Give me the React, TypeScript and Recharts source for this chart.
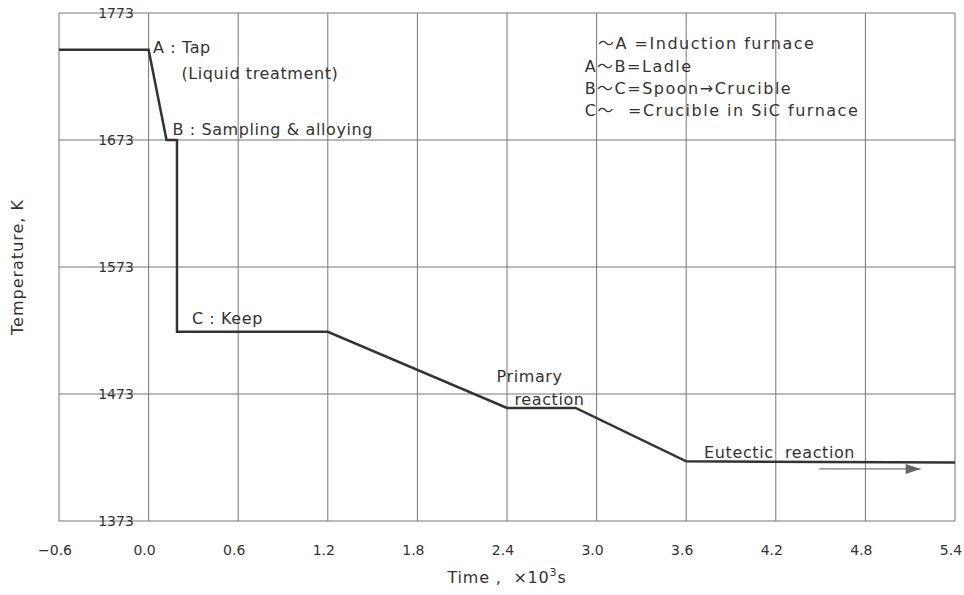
import React from 'react';
import { LineChart, Line, XAxis, YAxis, CartesianGrid, ReferenceDot } from 'recharts';

// axis ticks
const timeTicks = [-0.6, 0, 0.6, 1.2, 1.8, 2.4, 3.0, 3.6, 4.2, 4.8, 5.4];
const tempTicks = [1373, 1473, 1573, 1673, 1773];

// cooling curve, time in 10^3 s, temperature in K
const pathTime = [-0.6, 0.0, 0.12, 0.19, 0.19, 1.2, 2.4, 2.86, 3.6, 5.4];
const pathTemp = [1744, 1744, 1673, 1673, 1522, 1522, 1462, 1462, 1420, 1419];

// arrow under "Eutectic reaction"
const arrowTime = [4.49, 5.17];
const arrowTemp = [1414, 1414];

// text notes in data space
const noteTime = [0.03, 0.22, 0.16, 0.29, 2.33, 2.45, 3.72];
const noteTemp = [1746, 1726, 1682, 1533, 1487, 1469, 1427];
const noteText = [
  'A : Tap',
  '(Liquid treatment)',
  'B : Sampling & alloying',
  'C : Keep',
  'Primary',
  'reaction',
  'Eutectic  reaction',
];

// stage key in the upper right
const keyTime = [3.01, 2.92, 2.92, 2.92];
const keyTemp = [1749, 1731, 1714, 1697];
const keyText = [
  '～A =Induction furnace',
  'A～B=Ladle',
  'B～C=Spoon→Crucible',
  'C～  =Crucible in SiC furnace',
];

const W = 964;
const H = 595;
const margin = { top: 13, right: 9, bottom: 14, left: 59 };
const xAxisHeight = 60;
const plotTop = margin.top;
const plotBottom = H - margin.bottom - xAxisHeight;
const plotLeft = margin.left;
const plotRight = W - margin.right;

const FONT = "'DejaVu Sans', 'Noto Sans CJK JP', sans-serif";
const INK = '#333';
const GRID = '#777';

const curve = pathTime.map((t, i) => ({ t, temp: pathTemp[i] }));
const arrow = arrowTime.map((t, i) => ({ t, arrow: arrowTemp[i] }));
const notes = noteTime.map((t, i) => ({ t, temp: noteTemp[i], text: noteText[i] }));
const keys = keyTime.map((t, i) => ({ t, temp: keyTemp[i], text: keyText[i] }));

const fmtTime = (v: number) => v.toFixed(1).replace('-', '−');

const YTick = (props: any) => {
  const { y, payload } = props;
  return (
    <text x={plotLeft + 57} y={y} dy={5} textAnchor="middle" fontSize={14} fill={INK} fontFamily={FONT}>
      {payload.value}
    </text>
  );
};

const XTick = (props: any) => {
  const { x, payload } = props;
  return (
    <text x={x} y={plotBottom + 29} dx={-4} dy={5} textAnchor="middle" fontSize={14} fill={INK} fontFamily={FONT}>
      {fmtTime(payload.value)}
    </text>
  );
};

const ArrowHead = (props: any) => {
  const { cx, cy, index } = props;
  if (index !== 1) return <g key={`a${index}`} />;
  return <polygon key={`a${index}`} points={`${cx - 15},${cy - 5} ${cx},${cy} ${cx - 15},${cy + 5}`} fill="#666" />;
};

const noteShape = (text: string, spacing: number) => (p: any) => (
  <text
    x={p.cx}
    y={p.cy}
    dy={6}
    textAnchor="start"
    fontSize={16}
    letterSpacing={spacing}
    fill={INK}
    fontFamily={FONT}
    style={{ whiteSpace: 'pre' }}
  >
    {text}
  </text>
);

export default function App() {
  return (
    <div style={{ position: 'absolute', left: 0, top: 0, background: '#fff' }}>
      <LineChart width={W} height={H} margin={margin}>
        <CartesianGrid stroke={GRID} strokeWidth={1} horizontalValues={tempTicks} verticalValues={timeTicks} />
        <XAxis
          type="number"
          dataKey="t"
          domain={[-0.6, 5.4]}
          ticks={timeTicks}
          axisLine={false}
          tickLine={false}
          height={xAxisHeight}
          tick={<XTick />}
          interval={0}
          allowDataOverflow
          label={{
            content: () => (
              <text
                x={(plotLeft + plotRight) / 2}
                y={plotBottom + 62}
                textAnchor="middle"
                fontSize={16}
                letterSpacing={0.8}
                fill={INK}
                fontFamily={FONT}
                style={{ whiteSpace: 'pre' }}
              >
                Time ,  ×10
                <tspan dy={-7} fontSize={11}>3</tspan>
                <tspan dy={7}>s</tspan>
              </text>
            ),
          }}
        />
        <YAxis
          type="number"
          domain={[1373, 1773]}
          ticks={tempTicks}
          axisLine={false}
          tickLine={false}
          mirror
          tick={<YTick />}
          interval={0}
          allowDataOverflow
          label={{
            content: () => (
              <text
                x={18}
                y={(plotTop + plotBottom) / 2}
                transform={`rotate(-90 18 ${(plotTop + plotBottom) / 2})`}
                textAnchor="middle"
                dy={5}
                fontSize={16}
                letterSpacing={1}
                fill={INK}
                fontFamily={FONT}
              >
                Temperature, K
              </text>
            ),
          }}
        />
        <Line
          data={curve}
          dataKey="temp"
          type="linear"
          stroke="#333"
          strokeWidth={2.5}
          dot={false}
          isAnimationActive={false}
        />
        <Line
          data={arrow}
          dataKey="arrow"
          type="linear"
          stroke="#555"
          strokeWidth={1}
          dot={<ArrowHead />}
          isAnimationActive={false}
        />
        {notes.map((n) => (
          <ReferenceDot key={n.text} x={n.t} y={n.temp} r={0} ifOverflow="visible" shape={noteShape(n.text, 0.6)} />
        ))}
        {keys.map((k) => (
          <ReferenceDot key={k.text} x={k.t} y={k.temp} r={0} ifOverflow="visible" shape={noteShape(k.text, 1.5)} />
        ))}
      </LineChart>
    </div>
  );
}
